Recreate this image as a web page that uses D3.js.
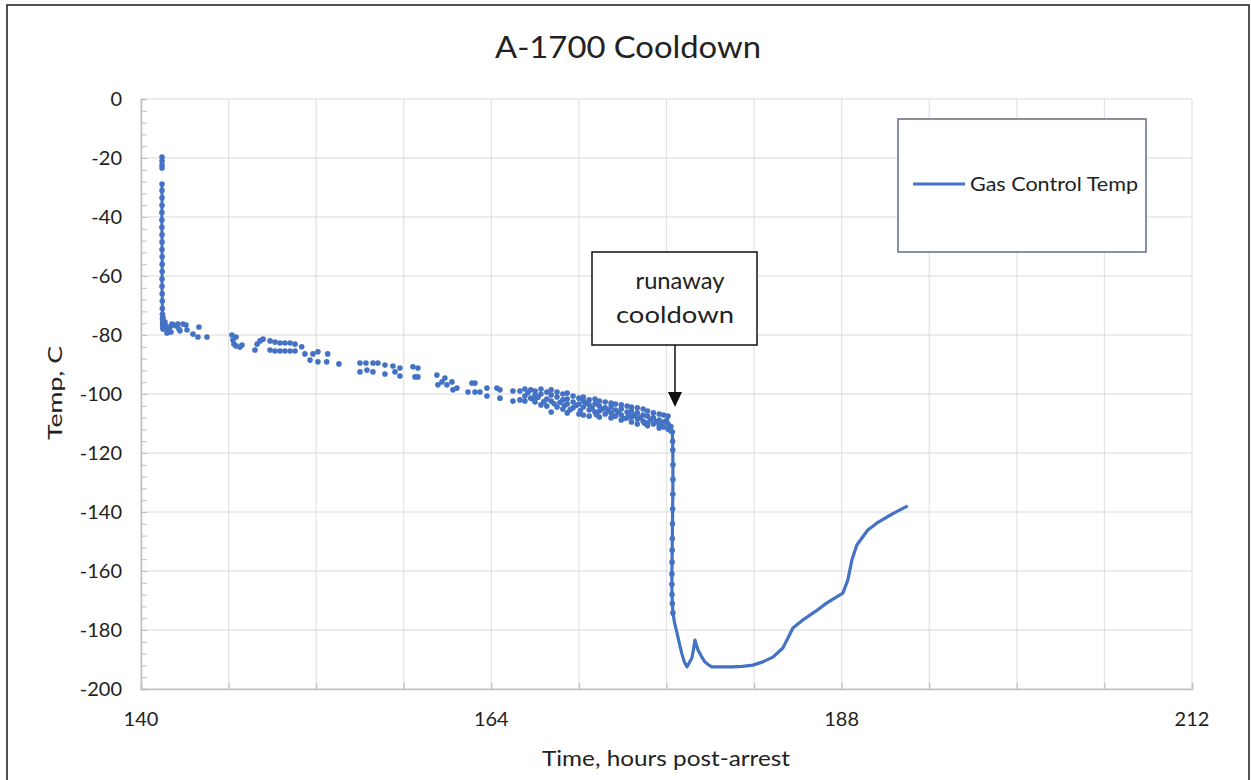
<!DOCTYPE html>
<html>
<head>
<meta charset="utf-8">
<script src="https://cdn.jsdelivr.net/npm/d3@7"></script>
<style>
  body { margin: 0; background: #fff; }
  text { font-family: Lato, "Open Sans", sans-serif; }
</style>
</head>
<body>
<div id="chart"></div>
<script>
var W = 1251, H = 780;
var margin = {top: 99, right: 59, bottom: 91, left: 141},
    width = W - margin.left - margin.right,
    height = H - margin.top - margin.bottom;

// tick values
var xTickLabels = [140, 164, 188, 212];
var xGridHours = [140, 146, 152, 158, 164, 170, 176, 182, 188, 194, 200, 206, 212];
var yTickLabels = [0, -20, -40, -60, -80, -100, -120, -140, -160, -180, -200];

// initial drop right after start (line + markers)
var dropHours = [141.44, 141.44, 141.44, 141.44, 141.43, 141.43, 141.43, 141.44, 141.44, 141.44,
                 141.45, 141.45, 141.45, 141.44, 141.44, 141.45, 141.46, 141.46, 141.47, 141.47,
                 141.48, 141.49, 141.50, 141.51];
var dropTemps = [-28.8, -31, -33.5, -36, -38.5, -41, -43.5, -46, -48.5, -51,
                 -53.5, -56, -58.5, -61, -63.5, -66, -68.5, -71, -73, -74.5,
                 -75.8, -76.8, -77.5, -78];
// first readings, isolated
var startHours = [141.44, 141.44, 141.44, 141.44];
var startTemps = [-19.7, -21, -22.4, -23.4];

// scattered readings (hours, temp)
var scatterPoints = [
  [141.51, -74.2], [141.64, -75.6], [141.71, -76.9], [141.85, -78.3], [141.99, -77.3],
  [142.12, -76.3], [142.26, -76.6], [142.40, -76.9], [142.53, -76.3], [142.60, -78.0],
  [142.05, -79.0], [141.78, -79.3], [142.88, -76.3], [143.08, -76.6], [142.67, -78.6],
  [143.15, -78.3], [143.56, -79.7], [143.97, -77.3], [143.90, -80.7], [144.52, -80.7],
  [146.23, -80.0], [146.30, -81.7], [146.37, -83.1], [146.51, -83.7], [146.78, -84.1],
  [146.92, -83.4], [146.51, -80.7], [147.81, -85.1], [147.95, -83.1], [148.15, -82.0],
  [148.36, -81.4], [148.84, -82.0], [149.18, -82.4], [149.52, -82.7], [149.86, -82.7],
  [150.21, -82.7], [150.55, -83.1], [148.84, -85.1], [149.18, -85.4], [149.52, -85.4],
  [149.86, -85.4], [150.21, -85.4], [150.55, -85.4], [151.01, -84.0], [151.23, -86.4],
  [151.58, -88.5], [151.78, -86.4], [152.12, -85.7], [152.12, -89.1], [152.72, -89.1],
  [152.79, -86.4], [153.56, -89.8], [155.00, -89.5], [155.00, -92.5], [155.41, -89.5],
  [155.48, -91.9], [155.89, -89.5], [155.89, -92.5], [156.23, -89.5], [156.71, -90.2],
  [156.71, -93.2], [157.26, -90.5], [157.40, -92.5], [157.74, -93.9], [157.74, -91.2],
  [158.63, -90.8], [158.77, -94.2], [158.97, -91.2], [158.97, -94.2], [160.27, -93.6],
  [160.34, -96.9], [160.62, -95.9], [160.82, -94.6], [160.96, -96.9], [161.30, -95.9],
  [161.37, -98.6], [161.64, -98.0], [162.40, -99.3], [162.67, -96.3], [162.88, -96.3],
  [162.88, -99.3], [163.22, -99.3], [163.70, -98.0], [163.70, -100.7], [164.38, -98.0],
  [164.59, -98.6], [164.59, -101.4], [165.48, -99.0], [165.48, -102.4], [165.96, -99.0],
  [165.96, -102.0],
  [166.3, -98.3], [166.3, -100.7], [166.3, -102.4], [166.7, -98.6], [166.7, -101.4],
  [167.0, -99.0], [167.0, -100.3], [167.0, -102.7], [167.4, -98.3], [167.4, -100.0],
  [167.4, -103.7], [167.8, -99.3], [167.8, -101.7], [167.8, -104.1], [168.1, -98.6],
  [168.1, -100.3], [168.1, -102.4], [168.1, -106.1], [168.5, -99.3], [168.5, -101.0],
  [168.5, -104.4], [168.9, -100.0], [168.9, -102.0], [168.9, -105.1], [169.2, -99.7],
  [169.2, -101.7], [169.2, -103.4], [169.2, -106.4], [169.6, -100.7], [169.6, -102.7],
  [169.6, -104.7], [170.0, -101.4], [170.0, -103.4], [170.0, -106.8], [170.3, -101.0],
  [170.3, -102.4], [170.3, -104.4], [170.3, -107.1], [170.7, -102.0], [170.7, -103.7],
  [170.7, -105.4], [170.7, -107.5], [171.1, -101.7], [171.1, -103.4], [171.1, -106.1],
  [171.4, -102.4], [171.4, -104.1], [171.4, -105.8], [171.4, -107.8], [171.8, -102.7],
  [171.8, -104.7], [171.8, -106.8], [172.2, -103.1], [172.2, -104.4], [172.2, -106.4],
  [172.2, -108.1], [172.5, -103.4], [172.5, -105.4], [172.5, -107.5], [172.9, -103.7],
  [172.9, -105.1], [172.9, -107.1], [172.9, -108.8], [173.3, -104.1], [173.3, -106.1],
  [173.3, -108.1], [173.6, -104.4], [173.6, -105.8], [173.6, -107.8], [173.6, -109.5],
  [174.0, -104.7], [174.0, -106.4], [174.0, -108.5], [174.0, -110.2], [174.4, -105.1],
  [174.4, -107.1], [174.4, -109.2], [174.7, -105.8], [174.7, -107.5], [174.7, -109.8],
  [174.7, -110.8], [175.1, -106.4], [175.1, -108.1], [175.1, -110.2], [175.5, -106.8],
  [175.5, -108.8], [175.5, -110.5], [175.5, -111.5], [175.8, -107.1], [175.8, -109.5],
  [175.8, -111.2], [176.1, -107.5], [176.1, -110.2], [176.1, -111.9], [176.3, -111.0],
  [166.5, -99.6], [166.9, -101.9], [167.2, -101.1], [167.6, -102.6], [168.3, -103.3],
  [168.7, -102.9], [169.0, -104.0], [169.4, -105.3], [169.8, -103.9], [170.1, -105.6],
  [170.5, -103.1], [170.9, -104.8], [171.2, -107.0], [171.6, -105.1], [172.0, -105.6],
  [172.3, -107.3], [172.7, -106.2], [173.1, -108.3], [173.4, -106.9], [173.8, -107.2],
  [174.2, -108.0], [174.5, -109.9], [174.9, -108.7], [175.3, -109.4], [175.6, -110.0],
  [176.0, -109.0]
];

// runaway cooldown and recovery (line + markers)
var runawayHours = [176.30, 176.40, 176.42, 176.43, 176.44, 176.44, 176.43, 176.42, 176.41, 176.40,
                    176.39, 176.38, 176.37, 176.37, 176.38, 176.40, 176.44, 176.55, 176.71, 176.88,
                    177.05, 177.22, 177.40, 177.57, 177.74, 177.85, 177.95, 178.05, 178.16, 178.40,
                    178.63, 178.87, 179.11, 179.8, 180.5, 181.2, 181.92, 182.6, 183.29, 183.97,
                    184.32, 184.66, 185.34, 186.2, 186.99, 188.08, 188.42, 188.70, 189.04, 189.79,
                    190.40, 191.10, 191.80, 192.53];
var runawayTemps = [-112.5, -112.9, -116, -119.0, -124, -129, -134, -139, -144, -149,
                    -153, -157, -161, -164.5, -168, -171, -174.2, -177.5, -180.8, -184.5,
                    -188, -190.8, -192.5, -191, -189.5, -186.5, -183.4, -185.2, -186.8, -189,
                    -190.8, -191.8, -192.5, -192.5, -192.5, -192.3, -191.9, -190.8, -189.2, -186.1,
                    -182.7, -179.3, -176.6, -173.7, -170.8, -167.5, -163.1, -156.3, -151.2, -146.1,
                    -143.8, -141.7, -139.8, -137.9];

var blue = "#4472c4";

var svg = d3.select("#chart")
    .append("svg")
        .attr("width", W)
        .attr("height", H);

// outer chart frame
svg.append("rect")
    .attr("x", 7).attr("y", 5)
    .attr("width", 1242).attr("height", 800)
    .attr("fill", "none")
    .attr("stroke", "#1a1a1a")
    .attr("stroke-width", 1.5);

var g = svg.append("g")
    .attr("transform", "translate(" + margin.left + "," + margin.top + ")");

var x = d3.scaleLinear()
    .domain([140, 212])
    .range([0, width]);

var y = d3.scaleLinear()
    .domain([0, -200])
    .range([0, height]);

// gridlines
g.append("g").selectAll("line")
    .data(xGridHours)
  .enter().append("line")
    .attr("x1", d => x(d)).attr("x2", d => x(d))
    .attr("y1", 0).attr("y2", height)
    .attr("stroke", "#e3e3e3").attr("stroke-width", 1.2);

g.append("g").selectAll("line")
    .data(yTickLabels)
  .enter().append("line")
    .attr("x1", 0).attr("x2", width)
    .attr("y1", d => y(d)).attr("y2", d => y(d))
    .attr("stroke", "#d9d9d9").attr("stroke-width", 1.2);

// y axis with minor ticks inside
var yAxis = g.append("g")
    .attr("class", "y-axis")
    .call(d3.axisRight(y).tickValues(d3.range(0, -201, -4)).tickSize(6).tickFormat(""));
yAxis.select(".domain").attr("stroke", "#bfbfbf").attr("stroke-width", 1.5);
yAxis.selectAll(".tick line").attr("stroke", "#bfbfbf").attr("stroke-width", 1);

g.append("g").selectAll("text")
    .data(yTickLabels)
  .enter().append("text")
    .attr("x", -19)
    .attr("y", d => y(d))
    .attr("dy", "0.36em")
    .attr("text-anchor", "end")
    .attr("font-size", 20)
    .attr("fill", "#222")
    .text(d => d);

// x axis
var xAxis = g.append("g")
    .attr("class", "x-axis")
    .attr("transform", "translate(0," + height + ")")
    .call(d3.axisTop(x).tickValues(xGridHours).tickSize(6).tickFormat(""));
xAxis.select(".domain").attr("stroke", "#bfbfbf").attr("stroke-width", 1.5);
xAxis.selectAll(".tick line").attr("stroke", "#bfbfbf").attr("stroke-width", 1.2);

g.append("g").selectAll("text")
    .data(xTickLabels)
  .enter().append("text")
    .attr("x", d => x(d))
    .attr("y", height + 37)
    .attr("text-anchor", "middle")
    .attr("font-size", 20)
    .attr("fill", "#222")
    .text(d => d);

// series
var line = d3.line()
    .x(d => x(d[0]))
    .y(d => y(d[1]));

var dropData = dropHours.map((h, i) => [h, dropTemps[i]]);
var runData = runawayHours.map((h, i) => [h, runawayTemps[i]]);
var startData = startHours.map((h, i) => [h, startTemps[i]]);

g.append("path").datum(dropData)
    .attr("d", line).attr("fill", "none")
    .attr("stroke", blue).attr("stroke-width", 3);

g.append("path").datum(runData)
    .attr("d", line).attr("fill", "none")
    .attr("stroke", blue).attr("stroke-width", 3.2)
    .attr("stroke-linejoin", "round");

var allDots = startData.concat(dropData, scatterPoints, runData.slice(0, 17));
g.append("g").selectAll("circle")
    .data(allDots)
  .enter().append("circle")
    .attr("cx", d => x(d[0]))
    .attr("cy", d => y(d[1]))
    .attr("r", 2.8)
    .attr("fill", blue);

// annotation
svg.append("rect")
    .attr("x", 592).attr("y", 252)
    .attr("width", 165).attr("height", 93)
    .attr("fill", "#fff")
    .attr("stroke", "#111").attr("stroke-width", 1.5);
svg.append("text").attr("x", 680).attr("y", 289)
    .attr("text-anchor", "middle").attr("font-size", 24).attr("fill", "#222")
    .attr("textLength", 89).attr("lengthAdjust", "spacingAndGlyphs")
    .text("runaway");
svg.append("text").attr("x", 675).attr("y", 323)
    .attr("text-anchor", "middle").attr("font-size", 24).attr("fill", "#222")
    .attr("textLength", 118).attr("lengthAdjust", "spacingAndGlyphs")
    .text("cooldown");
svg.append("line")
    .attr("x1", 675).attr("x2", 675)
    .attr("y1", 345).attr("y2", 394)
    .attr("stroke", "#111").attr("stroke-width", 1.5);
svg.append("path")
    .attr("d", "M668,392 L682,392 L675,407 Z")
    .attr("fill", "#111");

// legend
svg.append("rect")
    .attr("x", 898).attr("y", 119)
    .attr("width", 248).attr("height", 133)
    .attr("fill", "#fff")
    .attr("stroke", "#5f6f86").attr("stroke-width", 1.5);
svg.append("line")
    .attr("x1", 913).attr("x2", 965)
    .attr("y1", 184).attr("y2", 184)
    .attr("stroke", blue).attr("stroke-width", 3);
svg.append("text").attr("x", 970).attr("y", 191)
    .attr("font-size", 20).attr("fill", "#222")
    .attr("textLength", 168).attr("lengthAdjust", "spacingAndGlyphs")
    .text("Gas Control Temp");

// titles
svg.append("text").attr("x", 628).attr("y", 58)
    .attr("text-anchor", "middle").attr("font-size", 31).attr("fill", "#222")
    .attr("textLength", 266).attr("lengthAdjust", "spacingAndGlyphs")
    .text("A-1700 Cooldown");
svg.append("text").attr("x", 666).attr("y", 766)
    .attr("text-anchor", "middle").attr("font-size", 21).attr("fill", "#222")
    .attr("textLength", 248).attr("lengthAdjust", "spacingAndGlyphs")
    .text("Time, hours post-arrest");
svg.append("text")
    .attr("transform", "translate(62,393) rotate(-90)")
    .attr("text-anchor", "middle").attr("font-size", 20).attr("fill", "#222")
    .attr("textLength", 94).attr("lengthAdjust", "spacingAndGlyphs")
    .text("Temp,  C");
</script>
</body>
</html>
